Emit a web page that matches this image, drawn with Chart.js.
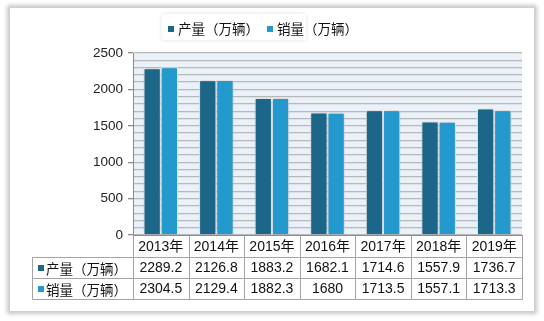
<!DOCTYPE html>
<html>
<head>
<meta charset="utf-8">
<script src="https://cdn.jsdelivr.net/npm/chart.js@4/dist/chart.umd.min.js"></script>
<style>
  html,body{margin:0;padding:0;background:#fff;width:544px;height:321px;overflow:hidden;}
  #frame{position:absolute;left:10px;top:8px;width:524px;height:303px;background:#fff;box-shadow:0 0 4px 3px rgba(0,0,0,0.22);}
  canvas{position:absolute;left:0;top:0;}
</style>
</head>
<body>
<div id="frame"></div>
<canvas id="c" width="544" height="321"></canvas>
<script>
const categories = ['2013年','2014年','2015年','2016年','2017年','2018年','2019年'];
const production = [2289.2, 2126.8, 1883.2, 1682.1, 1714.6, 1557.9, 1736.7];
const sales = [2304.5, 2129.4, 1882.3, 1680, 1713.5, 1557.1, 1713.3];
const seriesNames = ['产量（万辆）','销量（万辆）'];
const seriesColors = ['#1b6689','#2499cd'];
const yMax = 2500;
const yMajorStep = 500;
const yMinorStep = 100;

const FONT = '"Liberation Sans", Arial, "Noto Sans CJK SC", sans-serif';

const bgPlugin = {
  id: 'bg',
  beforeDraw(chart) {
    const {ctx, chartArea: a} = chart;
    ctx.save();
    ctx.fillStyle = '#eaf1f9';
    ctx.fillRect(a.left, a.top, a.right - a.left, a.bottom - a.top);
    ctx.restore();
  },
  beforeDatasetsDraw(chart) {
    const ctx = chart.ctx;
    ctx.save();
    ctx.shadowColor = 'rgba(0,0,0,0.3)';
    ctx.shadowBlur = 4;
  },
  afterDatasetsDraw(chart) {
    chart.ctx.restore();
  }
};

const tablePlugin = {
  id: 'table',
  afterDraw(chart) {
    const {ctx, chartArea: a} = chart;
    const xs = chart.scales.x;
    const n = categories.length;
    const colW = (a.right - a.left) / n;
    const rowTop = [a.bottom, a.bottom + 22, a.bottom + 43, a.bottom + 64];
    const leftX = 32;
    ctx.save();
    ctx.strokeStyle = '#a4a4a4';
    ctx.lineWidth = 1;
    const line = (x1, y1, x2, y2) => {
      ctx.beginPath();
      ctx.moveTo(Math.round(x1) + 0.5, Math.round(y1) + 0.5);
      ctx.lineTo(Math.round(x2) + 0.5, Math.round(y2) + 0.5);
      ctx.stroke();
    };
    // horizontal lines
    line(leftX, rowTop[1], a.right, rowTop[1]);
    line(leftX, rowTop[2], a.right, rowTop[2]);
    line(leftX, rowTop[3], a.right, rowTop[3]);
    // vertical lines
    line(leftX, rowTop[1], leftX, rowTop[3]);
    for (let i = 0; i <= n; i++) {
      const x = (i < n ? xs.getPixelForValue(i) - colW / 2 : xs.getPixelForValue(n - 1) + colW / 2);
      line(x, rowTop[0], x, rowTop[3]);
    }
    ctx.fillStyle = '#111';
    ctx.font = '14px ' + FONT;
    ctx.textAlign = 'center';
    ctx.textBaseline = 'middle';
    for (let i = 0; i < n; i++) {
      const x = xs.getPixelForValue(i);
      ctx.fillText(categories[i], x, (rowTop[0] + rowTop[1]) / 2 + 1);
      ctx.fillText(String(production[i]), x, (rowTop[1] + rowTop[2]) / 2 + 1);
      ctx.fillText(String(sales[i]), x, (rowTop[2] + rowTop[3]) / 2 + 1);
    }
    // row labels
    const rows = [[rowTop[1], rowTop[2]], [rowTop[2], rowTop[3]]];
    ctx.textAlign = 'left';
    ctx.font = '13.5px "Noto Sans CJK SC", sans-serif';
    rows.forEach((r, k) => {
      const cy = (r[0] + r[1]) / 2;
      ctx.fillStyle = seriesColors[k];
      ctx.fillRect(38, Math.round(cy) - 3, 6, 6);
      ctx.fillStyle = '#111';
      ctx.fillText(seriesNames[k], 46, cy + 1);
    });
    ctx.restore();
  }
};

const legendPlugin = {
  id: 'customLegend',
  afterDraw(chart) {
    const ctx = chart.ctx;
    ctx.save();
    ctx.shadowColor = 'rgba(0,0,0,0.12)';
    ctx.shadowBlur = 4;
    ctx.fillStyle = '#fff';
    ctx.fillRect(162, 14, 144, 26);
    ctx.shadowColor = 'transparent';
    ctx.shadowBlur = 0;
    ctx.font = '13.5px "Noto Sans CJK SC", sans-serif';
    ctx.textBaseline = 'middle';
    ctx.textAlign = 'left';
    let x = 168;
    seriesNames.forEach((name, k) => {
      ctx.fillStyle = seriesColors[k];
      ctx.fillRect(x, 26, 6, 6);
      ctx.fillStyle = '#111';
      ctx.fillText(name, x + 10, 29);
      x += 10 + ctx.measureText(name).width + 8;
    });
    ctx.restore();
  }
};

new Chart(document.getElementById('c'), {
  type: 'bar',
  data: {
    labels: categories,
    datasets: [
      {label: seriesNames[0], data: production, backgroundColor: seriesColors[0], borderColor: '#ffffff', borderWidth: 1},
      {label: seriesNames[1], data: sales, backgroundColor: seriesColors[1], borderColor: '#ffffff', borderWidth: 1}
    ]
  },
  options: {
    responsive: false,
    animation: false,
    devicePixelRatio: 1,
    layout: {padding: {left: 0, right: 22, top: 53, bottom: 86}},
    datasets: {bar: {categoryPercentage: 0.62, barPercentage: 1}},
    plugins: {legend: {display: false}, tooltip: {enabled: false}},
    scales: {
      x: {
        ticks: {display: false},
        grid: {display: false},
        border: {color: '#8c8c8c'},
        afterFit(s) { s.height = 0; }
      },
      y: {
        min: 0,
        max: yMax,
        ticks: {
          stepSize: yMinorStep,
          autoSkip: false,
          padding: 5,
          color: '#222',
          font: {family: FONT, size: 13.5},
          callback: v => (v % yMajorStep === 0 ? String(v) : '')
        },
        grid: {
          color: '#b8b8b8',
          lineWidth: 1.3,
          tickLength: 5,
          tickColor: c => (c.tick && c.tick.value % yMajorStep === 0 ? '#8c8c8c' : 'rgba(0,0,0,0)')
        },
        border: {color: '#8c8c8c'},
        afterFit(s) { s.width = 133; }
      }
    }
  },
  plugins: [bgPlugin, tablePlugin, legendPlugin]
});
</script>
</body>
</html>
